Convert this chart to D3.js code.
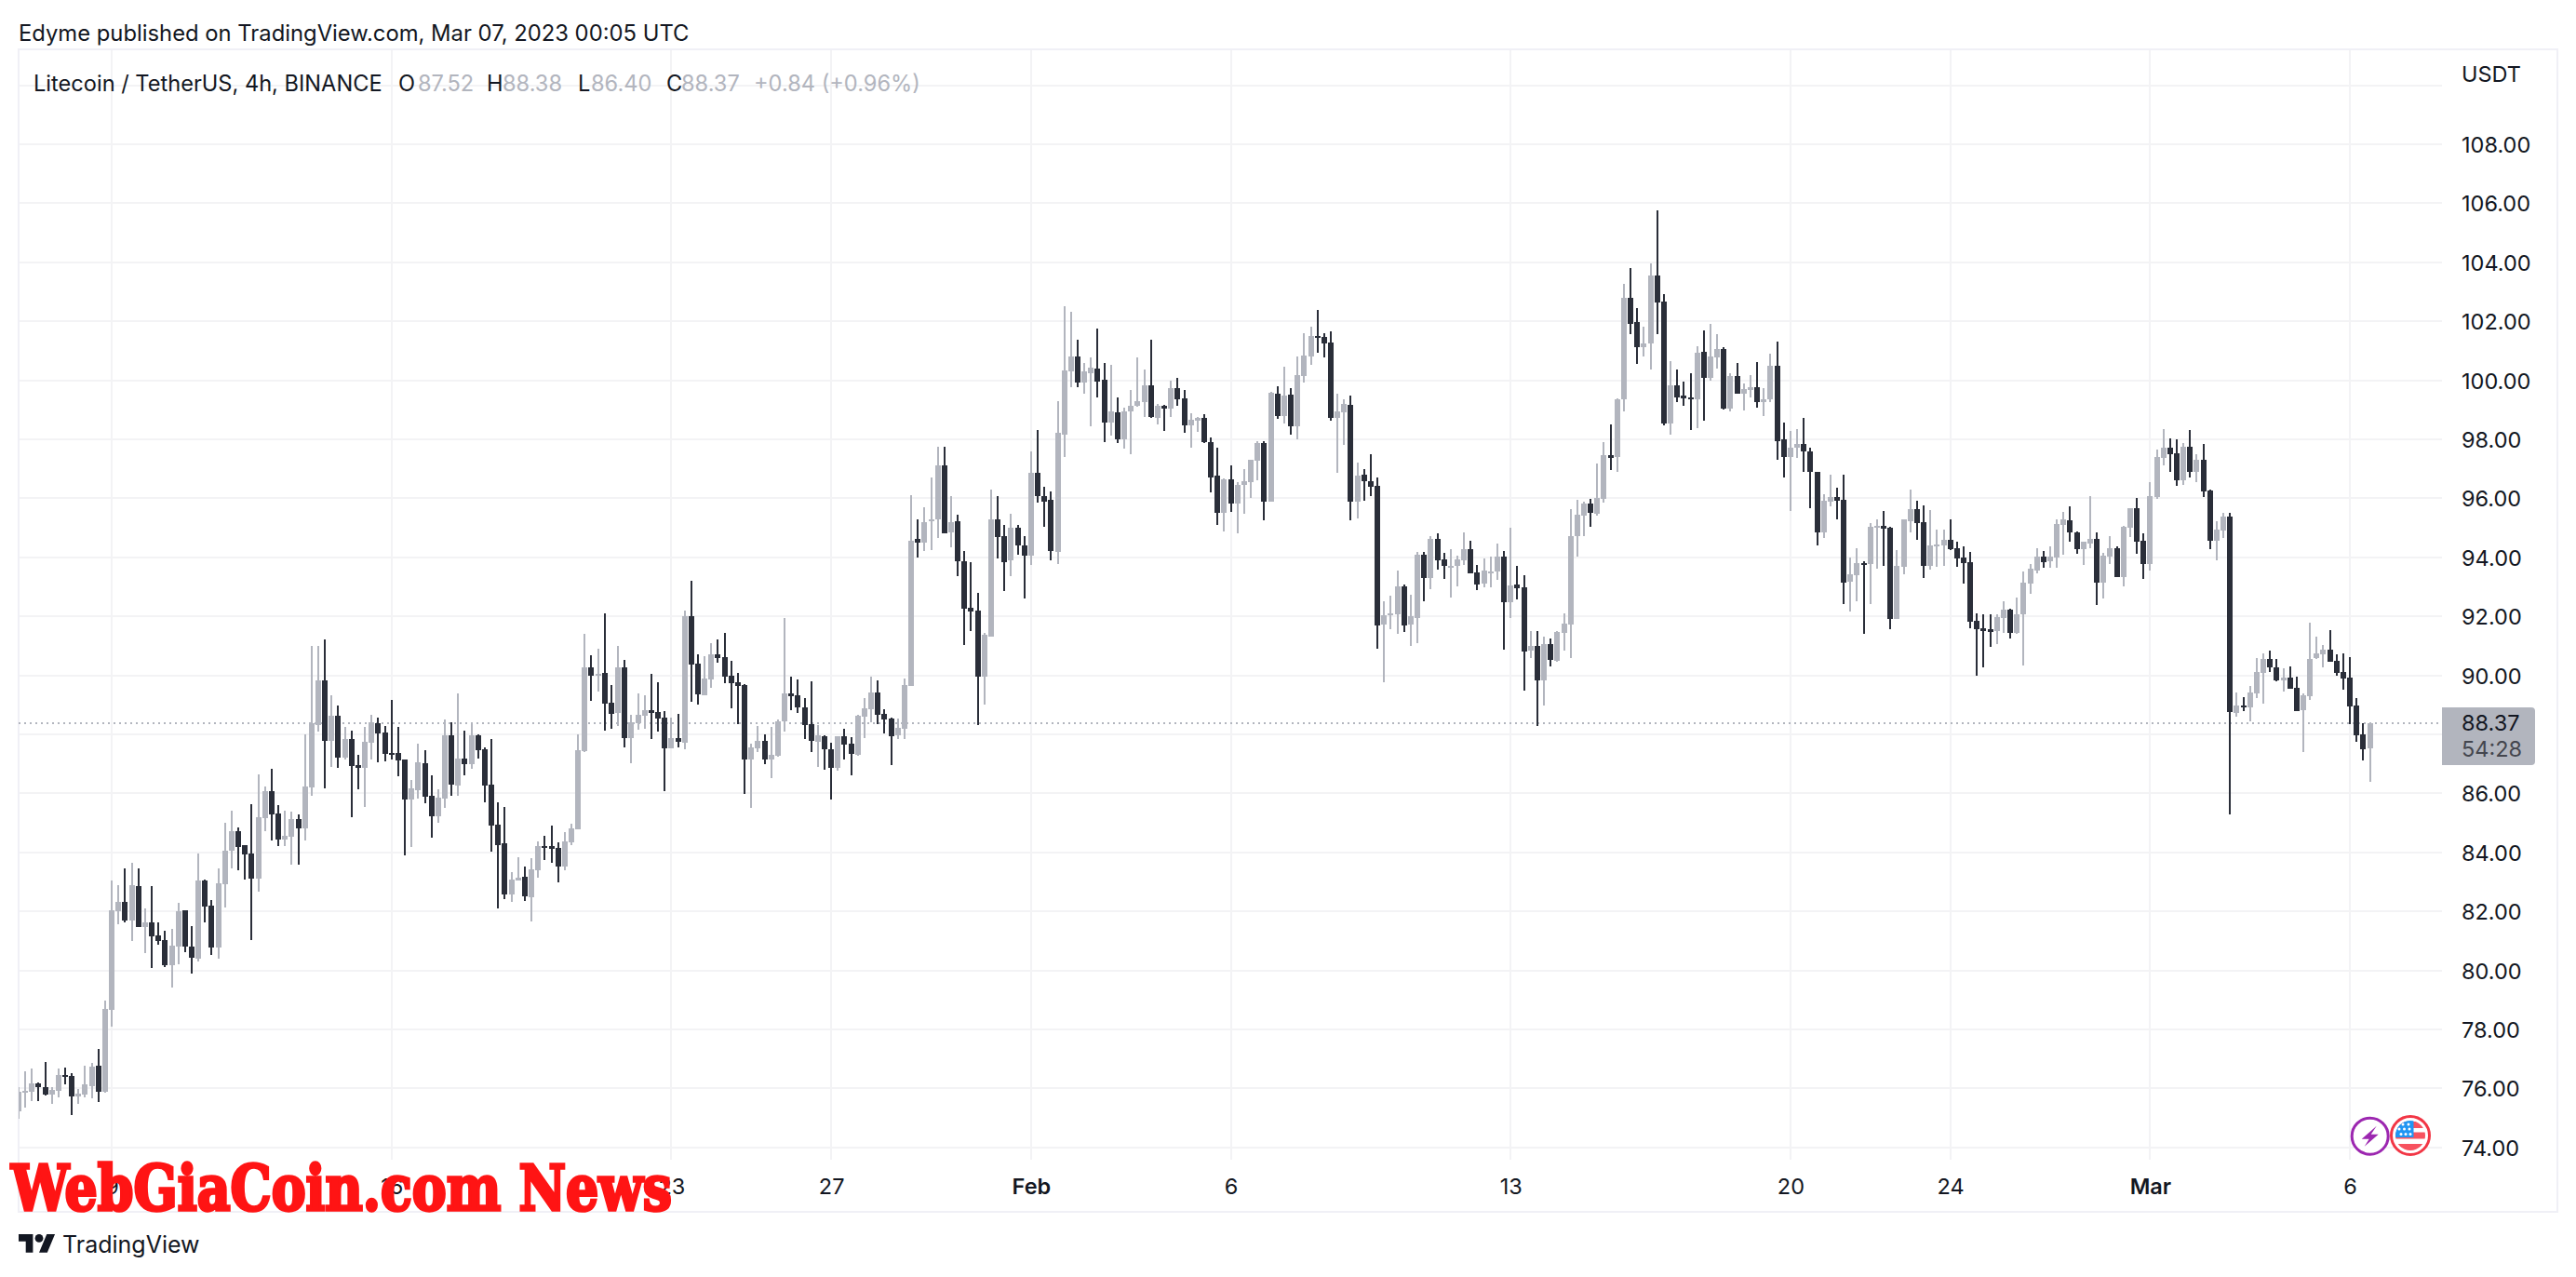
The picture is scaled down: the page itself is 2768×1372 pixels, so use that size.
<!DOCTYPE html>
<html>
<head>
<meta charset="utf-8">
<title>Litecoin / TetherUS, 4h</title>
<script src="https://cdn.jsdelivr.net/npm/d3@7"></script>
<style>
  html, body { margin: 0; padding: 0; background: #fff; }
  svg { display: block; }
  text { font-family: Inter, "Noto Sans", sans-serif; }
  .axis text { font-size: 23.5px; fill: #131722; }
  .axis path, .axis line { display: none; }
</style>
</head>
<body>
<script>
// 4h candles, ten per line
const opens = [
  75.21,75.88,75.87,76.16,76.05,75.78,75.91,76.44,76.41,75.72,
  75.78,76.06,76.76,75.87,78.65,81.99,82.33,81.70,82.87,81.48,
  81.61,81.17,81.04,80.16,80.82,82.02,80.82,80.41,83.03,82.18,
  80.76,82.93,84.04,84.71,84.25,83.97,83.12,85.17,86.08,85.32,
  84.44,84.54,85.13,84.82,86.21,88.32,89.83,87.78,88.63,87.21,
  87.84,86.96,86.87,87.72,88.38,88.06,87.38,87.37,87.15,85.80,
  86.11,87.03,85.92,85.23,85.83,87.97,86.27,87.18,86.99,87.97,
  87.50,86.30,84.95,84.32,82.58,83.05,83.18,82.49,83.40,84.22,
  84.22,84.16,83.53,84.35,84.79,87.43,90.27,89.99,90.08,89.07,
  88.73,90.27,87.88,88.38,88.63,88.82,88.76,88.57,87.53,87.87,
  87.72,92.00,90.39,89.32,89.86,90.71,90.62,89.99,89.76,89.67,
  87.15,87.53,87.78,87.15,87.28,88.44,89.39,89.32,88.91,88.35,
  87.75,87.94,87.50,86.87,87.94,87.68,87.31,88.60,88.85,89.42,
  88.69,88.54,87.97,88.19,89.64,94.62,94.50,95.22,95.29,97.13,
  94.83,95.21,93.86,92.28,92.19,89.95,91.30,95.28,94.71,93.89,
  94.99,94.39,94.05,96.85,96.09,95.94,94.17,98.17,100.29,100.82,
  99.91,100.25,100.41,100.03,98.58,98.90,97.99,98.93,99.12,99.25,
  99.84,98.74,99.12,99.03,99.72,99.40,98.46,98.62,98.71,97.92,
  96.76,95.50,96.63,95.81,96.44,96.54,97.26,97.86,95.87,99.56,
  98.80,99.50,98.43,100.16,100.82,101.51,101.48,101.29,98.71,98.90,
  99.18,95.87,96.79,96.57,96.41,91.71,92.03,92.06,93.01,91.71,
  91.93,94.08,93.29,94.61,93.92,93.67,93.70,93.89,94.27,93.48,
  93.10,93.51,93.51,94.01,92.47,93.07,92.97,90.83,90.99,89.82,
  91.05,90.49,91.43,91.71,94.71,95.40,95.81,95.46,95.97,97.45,
  97.39,99.34,102.81,101.96,101.11,101.26,103.55,102.68,98.52,99.84,
  99.47,99.43,99.37,100.95,100.07,100.79,101.07,99.03,100.16,99.56,
  99.66,99.78,99.25,99.34,100.50,97.99,97.39,97.70,97.83,97.58,
  96.91,94.83,95.87,96.03,95.94,93.16,93.38,93.79,93.76,94.99,
  95.05,94.99,91.90,93.67,95.21,95.62,95.18,93.70,94.36,94.39,
  94.58,94.30,93.98,93.83,91.84,91.59,91.56,91.49,91.93,92.22,
  91.43,92.06,93.10,93.54,94.01,93.86,93.98,95.09,95.24,94.83,
  94.27,94.46,94.61,93.13,94.01,94.30,93.32,94.99,95.68,94.55,
  93.76,96.03,97.36,97.73,97.54,96.60,97.76,96.91,97.32,96.25,
  94.55,94.90,95.37,88.72,88.97,88.91,89.38,90.08,90.55,90.26,
  89.82,89.92,89.57,88.81,89.29,90.58,90.71,90.86,90.49,90.11,
  89.92,88.97,88.00,87.52
];
const highs = [
  76.05,76.57,76.66,76.19,76.88,76.05,76.66,76.69,76.50,75.97,
  76.76,76.85,77.32,78.99,83.06,82.90,83.44,83.63,83.44,82.11,
  82.84,81.61,81.33,81.39,82.30,82.05,81.51,83.97,83.09,82.37,
  83.47,85.01,85.40,84.84,84.25,85.64,86.65,86.24,86.83,85.61,
  85.42,85.39,85.29,88.00,91.00,91.00,91.22,89.33,88.98,88.25,
  88.13,87.31,88.25,88.66,88.57,88.29,89.17,88.25,87.15,86.46,
  87.69,87.47,86.62,86.14,88.51,88.41,89.39,88.13,88.41,88.00,
  87.56,87.84,85.70,85.54,83.34,83.84,83.53,83.81,84.38,84.57,
  84.91,84.35,84.69,84.98,88.00,91.41,90.68,90.90,92.10,89.67,
  91.00,90.52,88.66,89.39,89.33,90.05,89.76,88.79,88.57,88.69,
  92.19,93.20,90.71,90.65,91.09,91.21,91.43,90.49,90.08,89.70,
  87.68,88.28,88.00,88.25,88.50,91.94,89.95,89.86,89.23,89.80,
  88.32,87.97,87.72,87.94,88.19,87.91,88.66,89.23,89.95,89.83,
  88.85,88.57,88.54,89.89,96.10,95.30,95.70,96.72,97.76,97.76,
  96.06,95.43,94.20,93.83,92.79,91.43,96.28,96.09,95.09,95.46,
  95.09,94.71,97.58,98.30,96.38,96.22,99.28,102.52,102.33,101.36,
  100.60,100.79,101.74,100.60,100.51,99.43,99.06,99.66,100.76,100.35,
  101.36,99.21,99.18,100.00,100.07,99.66,98.87,98.77,98.84,98.05,
  97.70,96.66,97.10,96.54,96.98,97.29,97.95,97.95,99.62,99.81,
  100.47,99.75,100.82,101.58,101.83,102.40,101.58,101.67,99.53,99.34,
  99.47,97.20,96.98,97.48,96.72,92.50,92.69,93.54,93.07,92.72,
  94.17,94.17,94.71,94.80,94.14,94.27,94.05,94.83,94.55,93.73,
  93.95,94.01,94.46,94.20,94.99,93.70,93.38,91.49,91.49,91.30,
  91.24,91.49,92.09,95.62,95.94,95.87,95.97,97.17,97.89,98.49,
  99.40,103.28,103.80,102.46,101.83,103.95,105.75,102.93,100.66,100.38,
  99.97,100.25,101.14,101.70,101.92,101.55,101.11,100.25,100.60,99.88,
  100.19,100.63,99.75,100.90,101.30,98.58,98.27,98.36,98.71,97.70,
  96.91,96.13,96.79,96.35,96.79,94.00,94.30,93.86,95.15,95.28,
  95.56,95.02,94.24,95.28,96.28,95.91,95.75,95.59,94.93,94.93,
  95.28,94.52,94.36,94.17,92.09,92.06,92.06,92.06,92.50,92.25,
  92.63,93.51,93.76,94.30,94.20,94.36,95.28,95.53,95.72,94.87,
  94.52,96.09,94.83,94.14,94.71,94.36,95.05,95.68,96.00,94.80,
  96.54,97.64,98.36,98.02,97.99,97.86,98.33,97.48,97.83,96.28,
  95.21,95.50,95.50,89.41,89.26,89.63,90.58,90.74,90.83,90.55,
  90.23,90.30,89.95,89.38,91.78,91.30,91.02,91.53,90.71,90.74,
  90.61,89.22,88.37,88.38
];
const lows = [
  74.97,75.34,75.56,75.56,75.75,75.46,75.68,76.13,75.09,75.46,
  75.68,75.65,75.53,75.84,78.08,81.55,81.64,80.98,81.48,80.57,
  80.07,80.88,80.10,79.43,80.19,80.60,79.88,80.29,81.64,80.51,
  80.41,82.14,83.44,83.40,83.09,81.02,82.68,84.72,84.41,84.22,
  84.22,83.59,83.59,84.41,85.92,88.10,86.17,86.90,86.87,87.15,
  85.20,86.14,85.54,87.15,87.06,87.09,87.15,86.58,83.91,84.19,
  85.83,85.67,84.50,85.01,85.51,85.92,85.92,86.62,86.84,87.18,
  85.70,84.03,82.11,82.42,82.33,83.05,82.36,81.67,83.15,83.75,
  83.65,82.99,83.40,84.25,84.79,87.40,89.14,89.45,88.13,88.19,
  88.29,87.56,87.03,88.16,88.19,87.84,88.09,86.08,87.53,87.56,
  87.50,89.10,89.01,89.32,89.58,90.43,89.73,88.88,88.35,85.98,
  85.51,87.40,86.99,86.52,87.24,88.09,88.82,88.72,87.84,87.40,
  86.90,86.80,85.79,86.77,87.15,86.61,87.28,87.87,88.41,88.35,
  88.03,86.96,87.84,87.84,89.64,94.00,94.20,94.24,94.64,94.80,
  94.33,93.35,91.02,91.49,88.30,89.00,91.30,93.95,92.85,93.35,
  94.08,92.60,93.73,95.84,95.02,93.89,93.76,97.39,99.78,99.78,
  99.53,98.43,99.43,97.92,98.14,97.86,97.67,97.48,99.09,98.77,
  98.71,98.49,98.27,98.77,99.15,98.21,97.70,98.24,97.86,96.19,
  95.09,94.87,95.53,94.80,95.46,96.00,96.60,95.24,95.87,98.68,
  98.55,98.17,97.99,99.91,100.51,100.92,100.79,98.62,96.85,97.80,
  95.24,95.31,95.91,96.06,90.89,89.76,91.56,91.40,91.46,90.99,
  91.08,92.50,92.91,93.57,93.26,92.63,93.01,93.73,93.45,92.88,
  92.97,92.97,93.23,90.86,91.93,92.57,89.48,90.58,88.28,88.97,
  90.30,90.45,90.83,90.58,94.01,94.71,95.02,95.40,95.84,96.95,
  96.88,98.96,101.55,100.54,100.82,100.38,101.55,98.46,98.17,99.25,
  99.15,98.33,98.39,98.62,100.00,100.41,99.00,98.93,99.56,98.99,
  99.43,99.06,98.80,99.25,97.32,96.72,95.56,97.36,96.91,95.65,
  94.39,94.64,95.72,95.28,92.41,92.16,92.50,91.40,92.41,93.60,
  93.70,91.56,91.90,93.42,94.83,94.58,93.29,93.57,93.67,93.70,
  94.24,93.67,93.10,91.59,89.98,90.26,90.96,91.05,91.43,91.24,
  91.40,90.33,92.75,93.45,93.64,93.64,93.64,94.08,94.52,94.11,
  93.73,94.30,92.38,92.60,93.76,93.32,93.01,94.68,94.11,93.26,
  93.54,95.97,97.13,96.88,96.41,96.44,96.69,96.54,96.03,94.27,
  93.89,94.64,85.29,88.59,88.78,88.44,89.22,89.04,90.11,89.79,
  89.45,89.54,88.78,87.40,89.16,90.55,90.26,90.45,89.98,89.51,
  88.34,87.74,87.11,86.40
];
const closes = [
  75.87,75.90,76.16,76.04,75.78,75.94,76.44,76.38,75.72,75.81,
  76.13,76.72,75.87,78.68,82.02,82.33,81.70,82.90,81.48,81.61,
  81.14,81.01,80.16,80.85,81.99,80.79,80.44,83.03,82.15,80.76,
  82.96,84.07,84.73,84.19,83.94,83.12,85.20,86.08,85.29,84.44,
  84.57,85.13,84.82,86.24,88.38,89.83,87.78,88.63,87.21,87.84,
  86.93,86.87,87.75,88.41,88.03,87.34,87.34,87.12,85.80,86.17,
  87.06,85.89,85.23,85.86,87.97,86.30,87.18,86.99,87.97,87.47,
  86.27,84.91,84.25,82.58,83.09,83.15,82.52,83.43,84.22,84.19,
  84.13,83.53,84.38,84.82,87.47,90.27,89.99,90.05,89.04,88.70,
  90.27,87.88,88.41,88.66,88.82,88.72,88.54,87.53,87.87,87.75,
  92.00,90.36,89.36,89.89,90.71,90.58,89.95,89.73,89.64,87.15,
  87.56,87.78,87.15,87.31,88.44,89.39,89.29,88.91,88.32,87.78,
  87.97,87.50,86.87,87.94,87.65,87.34,88.63,88.88,89.42,88.66,
  88.50,87.94,88.22,89.67,94.55,94.50,95.20,95.28,97.13,94.80,
  95.18,93.86,92.25,92.16,89.95,91.37,95.28,94.68,93.83,94.99,
  94.39,94.05,96.85,96.06,95.87,94.20,98.21,100.32,100.82,99.91,
  100.29,100.44,99.97,98.58,98.93,97.99,98.93,99.15,99.28,99.84,
  98.77,99.12,99.03,99.72,99.37,98.46,98.65,98.71,97.89,96.72,
  95.50,96.63,95.81,96.44,96.57,97.29,97.86,95.87,99.59,98.80,
  99.47,98.43,100.19,100.85,101.51,101.45,101.26,98.71,98.93,99.21,
  95.87,96.76,96.57,96.38,91.68,92.03,92.09,93.01,91.68,92.00,
  94.08,93.29,94.61,93.89,93.70,93.72,93.92,94.27,93.45,93.07,
  93.54,93.53,94.01,92.47,93.04,92.94,90.80,90.99,89.82,91.05,
  90.52,91.46,91.75,94.71,95.43,95.81,95.50,96.00,97.45,97.36,
  99.34,102.81,101.92,101.11,101.26,103.55,102.65,98.52,99.84,99.43,
  99.40,99.37,100.92,100.07,100.82,101.07,99.03,100.16,99.56,99.69,
  99.78,99.25,99.34,100.50,97.95,97.39,97.73,97.83,97.58,96.88,
  94.83,95.91,96.03,95.91,93.13,93.42,93.79,93.76,95.02,95.05,
  94.96,91.90,93.70,95.28,95.62,95.15,93.70,94.39,94.42,94.58,
  94.27,93.95,93.79,91.81,91.56,91.49,91.46,91.97,92.22,91.43,
  92.06,93.13,93.61,94.01,93.83,94.01,95.12,95.28,94.83,94.27,
  94.52,94.61,93.13,94.05,94.30,93.32,95.02,95.68,94.52,93.76,
  96.06,97.39,97.70,97.51,96.60,97.76,96.91,97.32,96.22,94.55,
  94.93,95.37,88.75,88.97,88.91,89.41,90.11,90.55,90.26,89.82,
  89.92,89.54,88.78,89.32,90.55,90.74,90.86,90.45,90.08,89.89,
  88.94,87.96,87.49,88.37
];

const priceTicks = [74,76,78,80,82,84,86,88,90,92,94,96,98,100,102,104,106,108];
const gridOnlyPrices = [110];
// candle index where each date label sits
const dateIndex = [14,56,98,122,152,182,224,266,290,320,350];
const dateLabels = ["9","16","23","27","Feb","6","13","20","24","Mar","6"];
const boldDates = ["Feb","Mar"];

const W = 2768, H = 1372;
const paneLeft = 20, paneRight = 2624, paneTop = 53, paneBottom = 1246;
const frameRight = 2748, frameBottom = 1302;
const up = "#b2b5be", down = "#2a2e39", gridColor = "#f3f3f5", frameColor = "#f0f0f6", ink = "#131722";

const x = d3.scaleLinear().domain([0, 353]).range([19.9, 2546.6]);
const y = d3.scaleLinear().domain([74, 108]).range([1232.7, 155]);

const candles = opens.map((o, i) => ({ i, o, h: highs[i], l: lows[i], c: closes[i] }));

const svg = d3.select("body").append("svg").attr("width", W).attr("height", H);
svg.append("rect").attr("width", W).attr("height", H).attr("fill", "#fff");

const defs = svg.append("defs");
defs.append("clipPath").attr("id", "pane").append("rect")
  .attr("x", paneLeft).attr("y", paneTop).attr("width", paneRight - paneLeft).attr("height", paneBottom - paneTop);
defs.append("clipPath").attr("id", "flagClip").append("circle").attr("r", 16);

// grid
const crisp = svg.append("g").attr("shape-rendering", "crispEdges");
crisp.selectAll(".hgrid").data(priceTicks.concat(gridOnlyPrices)).join("rect")
  .attr("x", paneLeft).attr("width", paneRight - paneLeft)
  .attr("y", (d) => Math.round(y(d)) - 1).attr("height", 2).attr("fill", gridColor);
crisp.selectAll(".vgrid").data(dateIndex).join("rect")
  .attr("x", (d) => Math.round(x(d)) - 1).attr("width", 2)
  .attr("y", paneTop).attr("height", paneBottom - paneTop).attr("fill", gridColor);

// frame
svg.append("rect").attr("x", paneLeft).attr("y", paneTop)
  .attr("width", frameRight - paneLeft).attr("height", frameBottom - paneTop)
  .attr("fill", "none").attr("stroke", frameColor).attr("stroke-width", 2);

// last price dotted line
svg.append("line")
  .attr("x1", paneLeft).attr("x2", paneRight)
  .attr("y1", Math.round(y(closes[353]))).attr("y2", Math.round(y(closes[353])))
  .attr("stroke", up).attr("stroke-width", 2).attr("stroke-dasharray", "2 4");

// candles
const candleG = svg.append("g").attr("clip-path", "url(#pane)").attr("shape-rendering", "crispEdges");
const color = (d) => (d.c >= d.o ? up : down);
candleG.selectAll(".wick").data(candles).join("rect")
  .attr("x", (d) => Math.round(x(d.i)) - 1).attr("width", 2)
  .attr("y", (d) => y(d.h)).attr("height", (d) => y(d.l) - y(d.h))
  .attr("fill", color);
candleG.selectAll(".body").data(candles).join("rect")
  .attr("x", (d) => Math.round(x(d.i)) - 3).attr("width", 6)
  .attr("y", (d) => y(Math.max(d.o, d.c)))
  .attr("height", (d) => Math.max(2, y(Math.min(d.o, d.c)) - y(Math.max(d.o, d.c))))
  .attr("fill", color);

// axes
svg.append("g").attr("class", "axis").attr("transform", `translate(${paneRight},1)`)
  .call(d3.axisRight(y).tickValues(priceTicks).tickFormat(d3.format(".2f")).tickSize(0).tickPadding(21));
const xAxis = svg.append("g").attr("class", "axis").attr("transform", "translate(0,1266)")
  .call(d3.axisBottom(x).tickValues(dateIndex).tickSize(0).tickPadding(0)
    .tickFormat((d) => dateLabels[dateIndex.indexOf(d)]));
xAxis.selectAll("text")
  .attr("font-weight", (d) => (boldDates.includes(dateLabels[dateIndex.indexOf(d)]) ? 600 : 400));

svg.append("text").attr("x", 2645).attr("y", 80).attr("dy", "0.35em")
  .attr("font-size", 23.5).attr("fill", ink).text("USDT");

// price tag
const tagY = Math.round(y(closes[353]));
const tagTop = tagY - 17, tagBot = tagY + 45;
svg.append("path")
  .attr("d", `M${paneRight},${tagTop}H2720a4,4 0 0 1 4,4V${tagBot - 4}a4,4 0 0 1 -4,4H${paneRight}Z`)
  .attr("fill", up);
svg.append("text").attr("x", 2645).attr("y", tagY).attr("dy", "0.35em")
  .attr("font-size", 23.5).attr("fill", ink).text(d3.format(".2f")(closes[353]));
svg.append("text").attr("x", 2645).attr("y", tagY + 28).attr("dy", "0.35em")
  .attr("font-size", 23.5).attr("fill", "#44464e").text("54:28");

// published line
svg.append("text").attr("x", 20).attr("y", 36).attr("dy", "0.35em")
  .attr("font-size", 23.8).attr("fill", ink)
  .text("Edyme published on TradingView.com, Mar 07, 2023 00:05 UTC");

// legend line
const legendY = 90;
const legend = [
  { t: "Litecoin / TetherUS, 4h, BINANCE", x: 36, c: ink },
  { t: "O", x: 428, c: ink }, { t: "87.52", x: 449, c: up },
  { t: "H", x: 523, c: ink }, { t: "88.38", x: 540, c: up },
  { t: "L", x: 621, c: ink }, { t: "86.40", x: 635, c: up },
  { t: "C", x: 716, c: ink }, { t: "88.37", x: 732, c: up },
  { t: "+0.84 (+0.96%)", x: 810, c: up }
];
svg.selectAll(".legend").data(legend).join("text")
  .attr("x", (d) => d.x).attr("y", legendY).attr("dy", "0.35em")
  .attr("font-size", 23.6).attr("fill", (d) => d.c).text((d) => d.t);

// event icons
const bolt = svg.append("g").attr("transform", "translate(2546.7,1220.7)");
bolt.append("circle").attr("r", 19.5).attr("fill", "#fff").attr("stroke", "#9c27b0").attr("stroke-width", 3);
bolt.append("path").attr("d", "M7,-11 L-9,3 L-1,3 L-6,11 L9,-2 L1,-2 Z").attr("fill", "#9c27b0");

const flag = svg.append("g").attr("transform", "translate(2590,1220)");
flag.append("circle").attr("r", 20.5).attr("fill", "#fff").attr("stroke", "#f23645").attr("stroke-width", 3);
const flagIn = flag.append("g").attr("clip-path", "url(#flagClip)");
[-15, -3.5, 9].forEach((s) => {
  flagIn.append("rect").attr("x", -16).attr("width", 32).attr("y", s).attr("height", 7).attr("fill", "#f7525f");
});
flagIn.append("rect").attr("x", -16).attr("y", -16).attr("width", 19.5).attr("height", 18).attr("fill", "#2196f3");
[[-8,-12],[-2,-12],[-12,-7],[-6.5,-7],[-1,-7],[-10,-1.5],[-5,-1.5],[0,-1.5]].forEach((p) => {
  flagIn.append("circle").attr("cx", p[0]).attr("cy", p[1]).attr("r", 1.5).attr("fill", "#fff");
});

// TradingView logo
const logo = svg.append("g").attr("transform", "translate(20,1326) scale(1.1)").attr("fill", ink);
logo.append("path").attr("d", "M14 18H7V7H0V0h14v18zM28 18h-8L27.5 0h8L28 18z");
logo.append("circle").attr("cx", 20).attr("cy", 4).attr("r", 4);
svg.append("text").attr("x", 67).attr("y", 1337).attr("dy", "0.35em")
  .attr("font-size", 25).attr("fill", ink).text("TradingView");

// watermark
svg.append("text").attr("x", 12).attr("y", 1300)
  .attr("textLength", 710).attr("lengthAdjust", "spacingAndGlyphs")
  .style("font-family", "'DejaVu Serif', serif").style("font-weight", "bold")
  .attr("font-size", 67).attr("fill", "#ff1414").attr("stroke", "#ff1414").attr("stroke-width", 3.5)
  .text("WebGiaCoin.com News");
</script>
</body>
</html>
